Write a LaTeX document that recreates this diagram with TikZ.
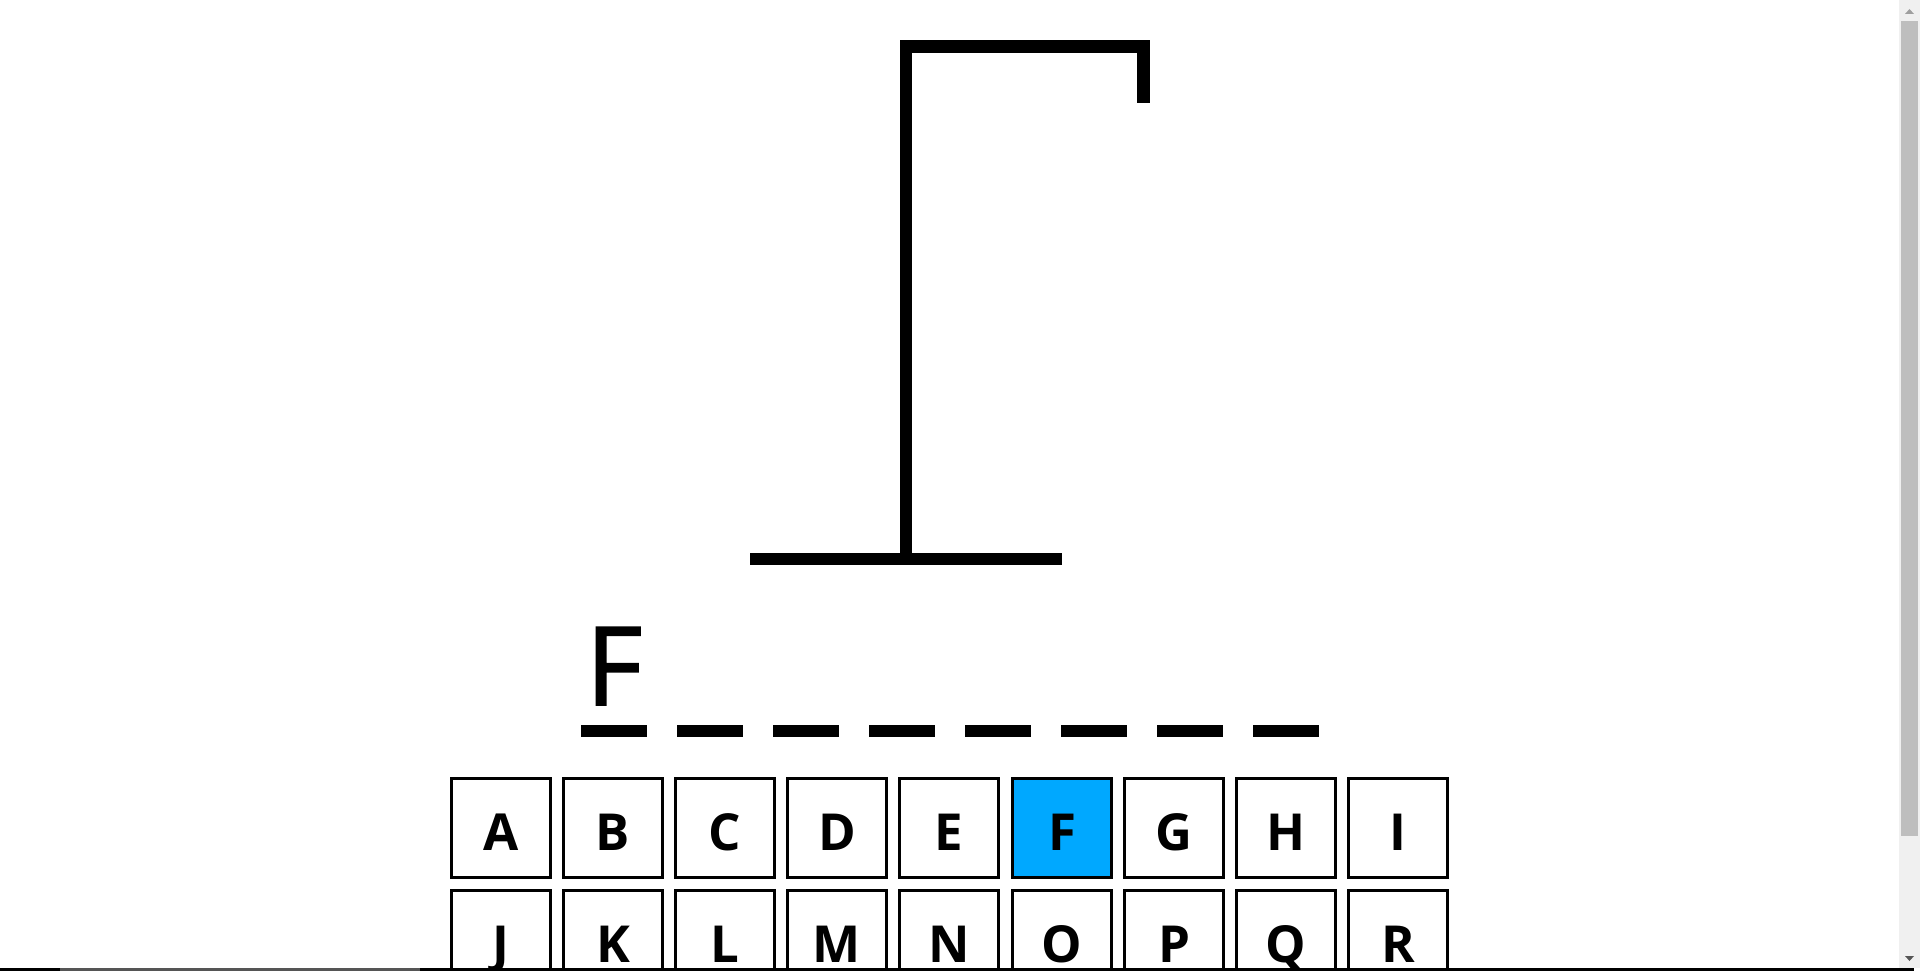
\documentclass[tikz,border=0pt]{standalone}
\usepackage{fontspec}
\setmainfont{Open Sans}
\newfontfamily\wordfont[FakeBold=1.6]{Open Sans}
\definecolor{pickblue}{HTML}{00A8FF}
\definecolor{trackgray}{HTML}{F0F0F0}
\definecolor{thumbgray}{HTML}{BEBEBE}
\definecolor{edgegray}{HTML}{555555}

\begin{document}
\begin{tikzpicture}[x=1pt,y=-1pt]
          \tikzset{
            key/.style={draw, line width=3pt, minimum width=99pt, minimum height=99pt, inner sep=0pt,
              font=\fontsize{51}{51}\selectfont\bfseries, text height=44pt, text depth=0pt},
            picked/.style={key, fill=pickblue},
            blank/.style={fill, minimum width=66pt, minimum height=12pt, inner sep=0pt},
            beam/.style={line width=12.5pt}
          }
          \useasboundingbox (0,0) rectangle (1920,971);
          \clip (0,0) rectangle (1920,971);

          % gallows
          \draw[beam] (750,559) -- (1062,559);
          \draw[beam] (906,559) -- (906,46.5) -- (1143.5,46.5) -- (1143.5,103);

          % word
          \node[blank] (b1) at (614,731) {};
          \node[blank] (b2) at (710,731) {};
          \node[blank] (b3) at (806,731) {};
          \node[blank] (b4) at (902,731) {};
          \node[blank] (b5) at (998,731) {};
          \node[blank] (b6) at (1094,731) {};
          \node[blank] (b7) at (1190,731) {};
          \node[blank] (b8) at (1286,731) {};
          \node[anchor=base, inner sep=0pt, font=\wordfont\fontsize{109}{109}\selectfont] (w1) at (614,705) {F};

          % keys
          \node[key] (kA) at (501,828) {A};
          \node[key] (kB) at (613,828) {B};
          \node[key] (kC) at (725,828) {C};
          \node[key] (kD) at (837,828) {D};
          \node[key] (kE) at (949,828) {E};
          \node[picked] (kF) at (1062,828) {F};
          \node[key] (kG) at (1174,828) {G};
          \node[key] (kH) at (1286,828) {H};
          \node[key] (kI) at (1398,828) {I};
          \node[key] (kJ) at (501,940) {J};
          \node[key] (kK) at (613,940) {K};
          \node[key] (kL) at (725,940) {L};
          \node[key] (kM) at (837,940) {M};
          \node[key] (kN) at (949,940) {N};
          \node[key] (kO) at (1062,940) {O};
          \node[key] (kP) at (1174,940) {P};
          \node[key] (kQ) at (1286,940) {Q};
          \node[key] (kR) at (1398,940) {R};

          % scrollbar and window edge
          \fill[trackgray] (1899,0) rectangle (1920,968);
          \fill[thumbgray] (1901,21) rectangle (1918,836);
          \fill[gray!75] (1905,14) -- (1914,14) -- (1909.5,9) -- cycle;
          \fill[edgegray] (1905,956) -- (1914,956) -- (1909.5,961) -- cycle;
          \fill[black] (0,968) rectangle (1914,971);
          \fill[edgegray] (60,968) rectangle (420,971);
        \end{tikzpicture}
\end{document}
